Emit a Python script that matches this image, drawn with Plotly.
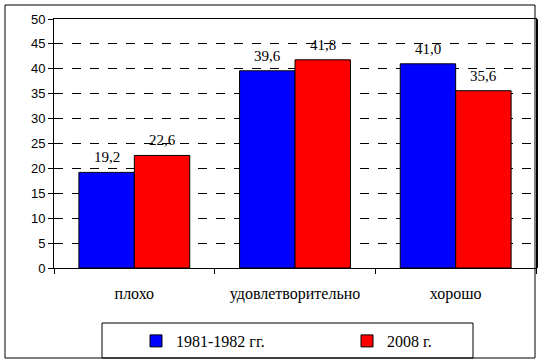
import plotly.graph_objects as go

categories = ["плохо", "удовлетворительно", "хорошо"]
series_1981 = [19.2, 39.6, 41.0]
series_2008 = [22.6, 41.8, 35.6]
series_names = ["1981-1982 гг.", "2008 г."]
y_ticks = [0, 5, 10, 15, 20, 25, 30, 35, 40, 45, 50]

def fmt(v):
    return f"{v:.1f}".replace(".", ",")

W, H = 542, 364
L, R, T, B = 54, 536, 19, 268

def px(x):
    return (x - L) / (R - L)

def py(y):
    return (B - y) / (B - T)

serif = "Liberation Serif, Times New Roman, serif"
sans = "Liberation Sans, Arial, sans-serif"

bargap = 0.31
cat_w = (R - L) / len(categories)
bar_w = cat_w * (1 - bargap) / 2

fig = go.Figure()
annotations = []
for k, (name, vals, col) in enumerate([(series_names[0], series_1981, "#0000FF"),
                                       (series_names[1], series_2008, "#FF0000")]):
    fig.add_trace(go.Bar(
        x=categories, y=vals, name=name,
        marker=dict(color=col, line=dict(color="black", width=1)),
    ))
    shift = (k - 0.5) * bar_w
    for c, v in zip(categories, vals):
        annotations.append(dict(
            x=c, y=v, xref="x", yref="y", text=fmt(v), showarrow=False,
            xshift=shift, yshift=15, yanchor="middle",
            font=dict(family=serif, size=15, color="black"),
        ))

fig.update_layout(
    width=W, height=H,
    margin=dict(l=L, r=W - R, t=T, b=H - B, autoexpand=False),
    paper_bgcolor="white", plot_bgcolor="white",
    barmode="group", bargap=bargap, bargroupgap=0,
    showlegend=True,
    legend=dict(orientation="h", x=px(136), y=py(341), xanchor="left", yanchor="middle",
                entrywidth=166, entrywidthmode="pixels",
                font=dict(family=serif, size=16, color="black"),
                bgcolor="rgba(0,0,0,0)", borderwidth=0),
    xaxis=dict(showline=True, linecolor="black", linewidth=1, mirror=True,
               ticks="outside", ticklen=5, tickcolor="black", tickson="boundaries",
               ticklabelstandoff=11, automargin=False,
               tickfont=dict(family=serif, size=16, color="black"),
               showgrid=False),
    yaxis=dict(range=[0, 50], tickvals=y_ticks, showline=True, linecolor="black",
               linewidth=1, mirror=True, ticks="outside", ticklen=5, tickcolor="black",
               tickfont=dict(family=sans, size=13, color="black"), automargin=False,
               showgrid=True, gridcolor="black", griddash="dash", gridwidth=1,
               zeroline=False),
    annotations=annotations,
    shapes=[
        dict(type="rect", xref="paper", yref="paper",
             x0=px(5), x1=px(535), y0=py(358), y1=py(5),
             line=dict(color="black", width=1), layer="below"),
        dict(type="rect", xref="paper", yref="paper",
             x0=px(102), x1=px(473), y0=py(358), y1=py(323),
             line=dict(color="black", width=1), fillcolor="rgba(0,0,0,0)"),
        dict(type="line", xref="paper", yref="paper",
             x0=px(537), x1=px(537), y0=py(268), y1=py(19),
             line=dict(color="black", width=2)),
    ],
)

fig.write_html("out.html", config={"displayModeBar": False},
               post_script="document.body.style.margin='0';document.body.style.overflow='hidden';")
